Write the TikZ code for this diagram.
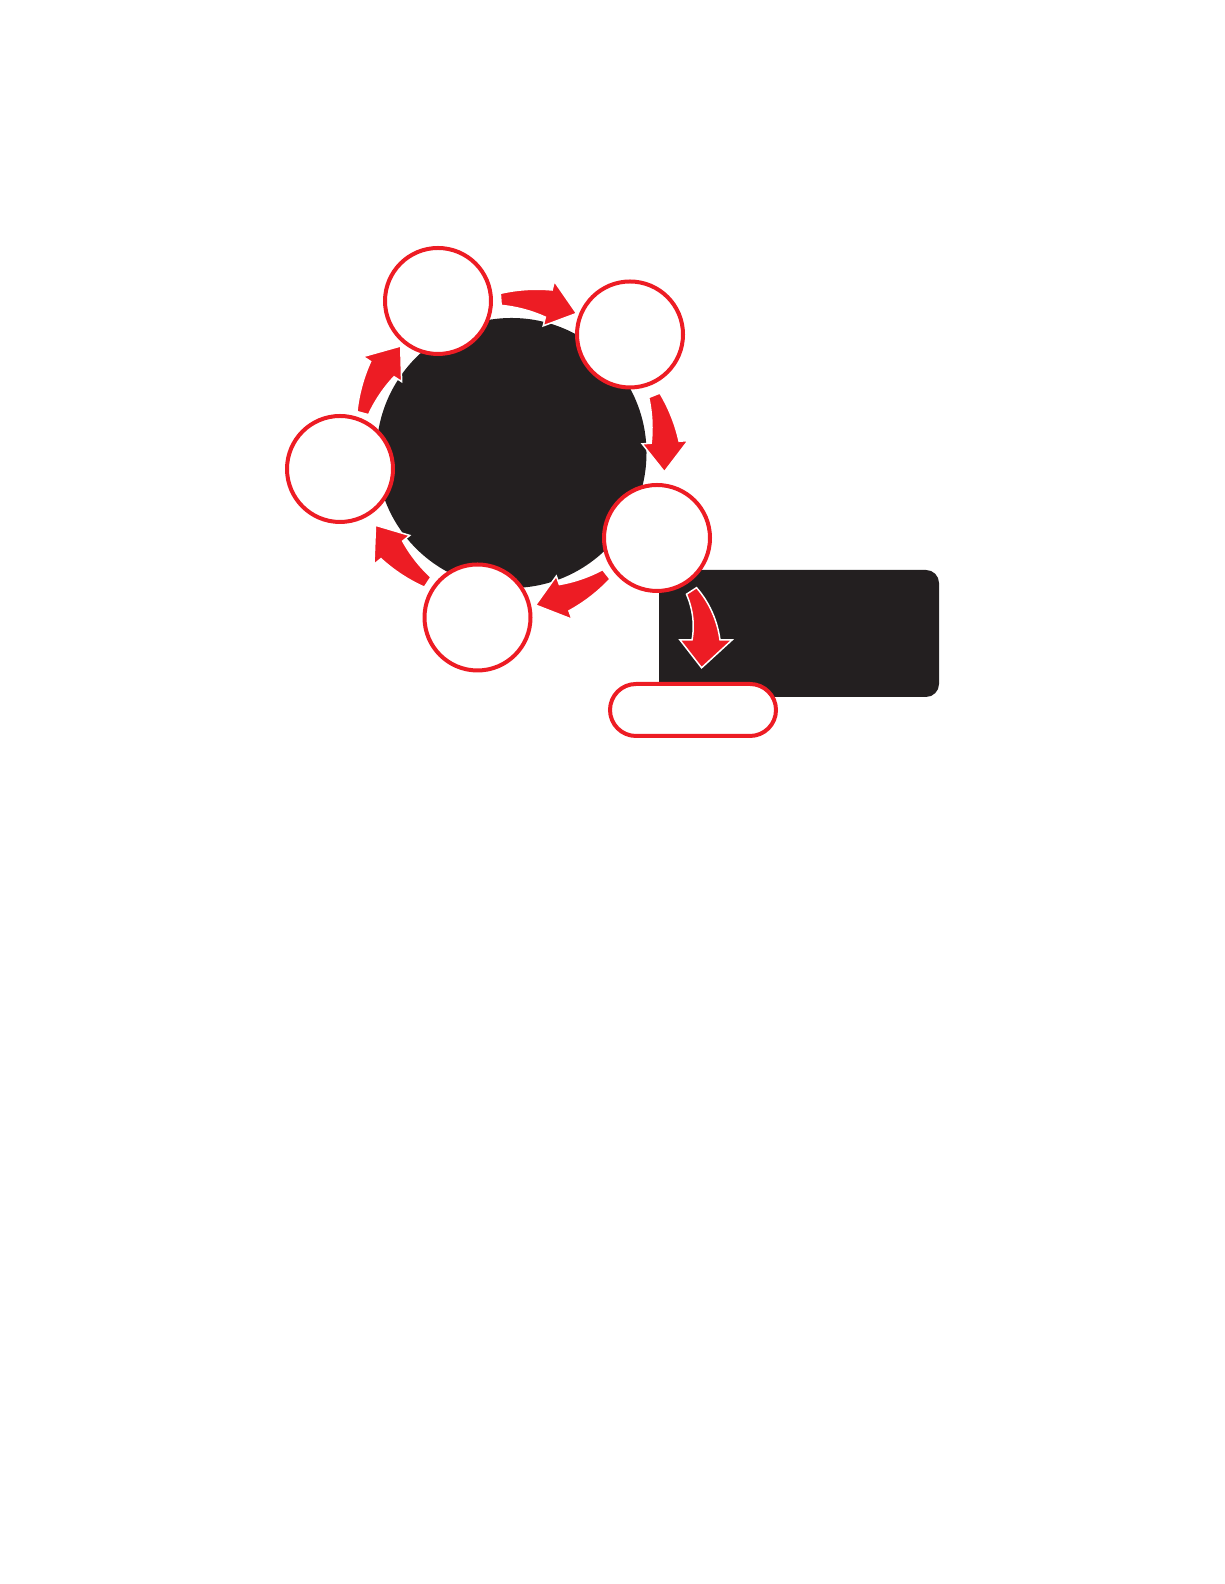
\documentclass[tikz,border=0pt]{standalone}
\usetikzlibrary{calc}
\definecolor{adred}{RGB}{237,28,36}
\definecolor{adblack}{RGB}{35,31,32}
\tikzset{
  stage/.style={circle, draw=adred, line width=4pt, fill=white, minimum size=106pt, inner sep=0pt},
  hubdisc/.style={circle, fill=adblack, minimum size=270pt, inner sep=0pt},
  panel/.style={rectangle, fill=adblack, rounded corners=13pt, minimum width=280pt, minimum height=127pt, inner sep=0pt},
  pill/.style={rectangle, draw=adred, line width=4pt, fill=white, rounded corners=26pt, minimum width=166pt, minimum height=52pt, inner sep=0pt},
  arrowfill/.style={fill=adred, draw=white, line width=1.5pt, line join=miter}
}
% #1 centre, #2 mid radius, #3 tail angle, #4 head-base angle, #5 tip angle, #6 tail half width, #7 base half width, #8 head half width
\newcommand\redcurvearrow[8]{%
  \begin{scope}[shift={(#1)}]
    \path[arrowfill]
      plot[domain=#3:#4, samples=24, variable=\t] (\t:{#2+#6+(#7-#6)*(\t-(#3))/((#4)-(#3))})
      -- (#4:{#2+#8}) -- (#5:#2) -- (#4:{#2-#8})
      -- plot[domain=#4:#3, samples=24, variable=\t] (\t:{#2-#6-(#7-#6)*(\t-(#3))/((#4)-(#3))})
      -- cycle;
  \end{scope}}
\begin{document}
\begin{tikzpicture}[x=1pt,y=1pt]
\useasboundingbox (0,0) rectangle (1224,1584);
\node[panel] (box) at (799,950.5) {};
\node[hubdisc] (hub) at (511.5,1131) {};
% cycle arrows around the hub
\redcurvearrow{hub.center}{154}{94}{76}{65}{6}{14}{23}
\redcurvearrow{hub.center}{154}{22}{4}{-7}{6}{14}{23}
\redcurvearrow{hub.center}{154}{-52}{-70}{-81}{6}{14}{23}
\redcurvearrow{hub.center}{154}{-123}{-141}{-152}{6}{14}{23}
\redcurvearrow{hub.center}{154}{165}{147}{136}{6}{14}{23}
% exit arrow
\coordinate (pivot) at (616,944);
\redcurvearrow{pivot}{90}{33}{0}{-18}{6}{14}{26}
% stages
\node[stage] (s1) at (438,1283) {};
\node[stage] (s2) at (630,1249.5) {};
\node[stage] (s3) at (657,1046) {};
\node[stage] (s4) at (477.5,966.5) {};
\node[stage] (s5) at (340,1115) {};
\node[pill] (out) at (693,874) {};
\end{tikzpicture}
\end{document}
